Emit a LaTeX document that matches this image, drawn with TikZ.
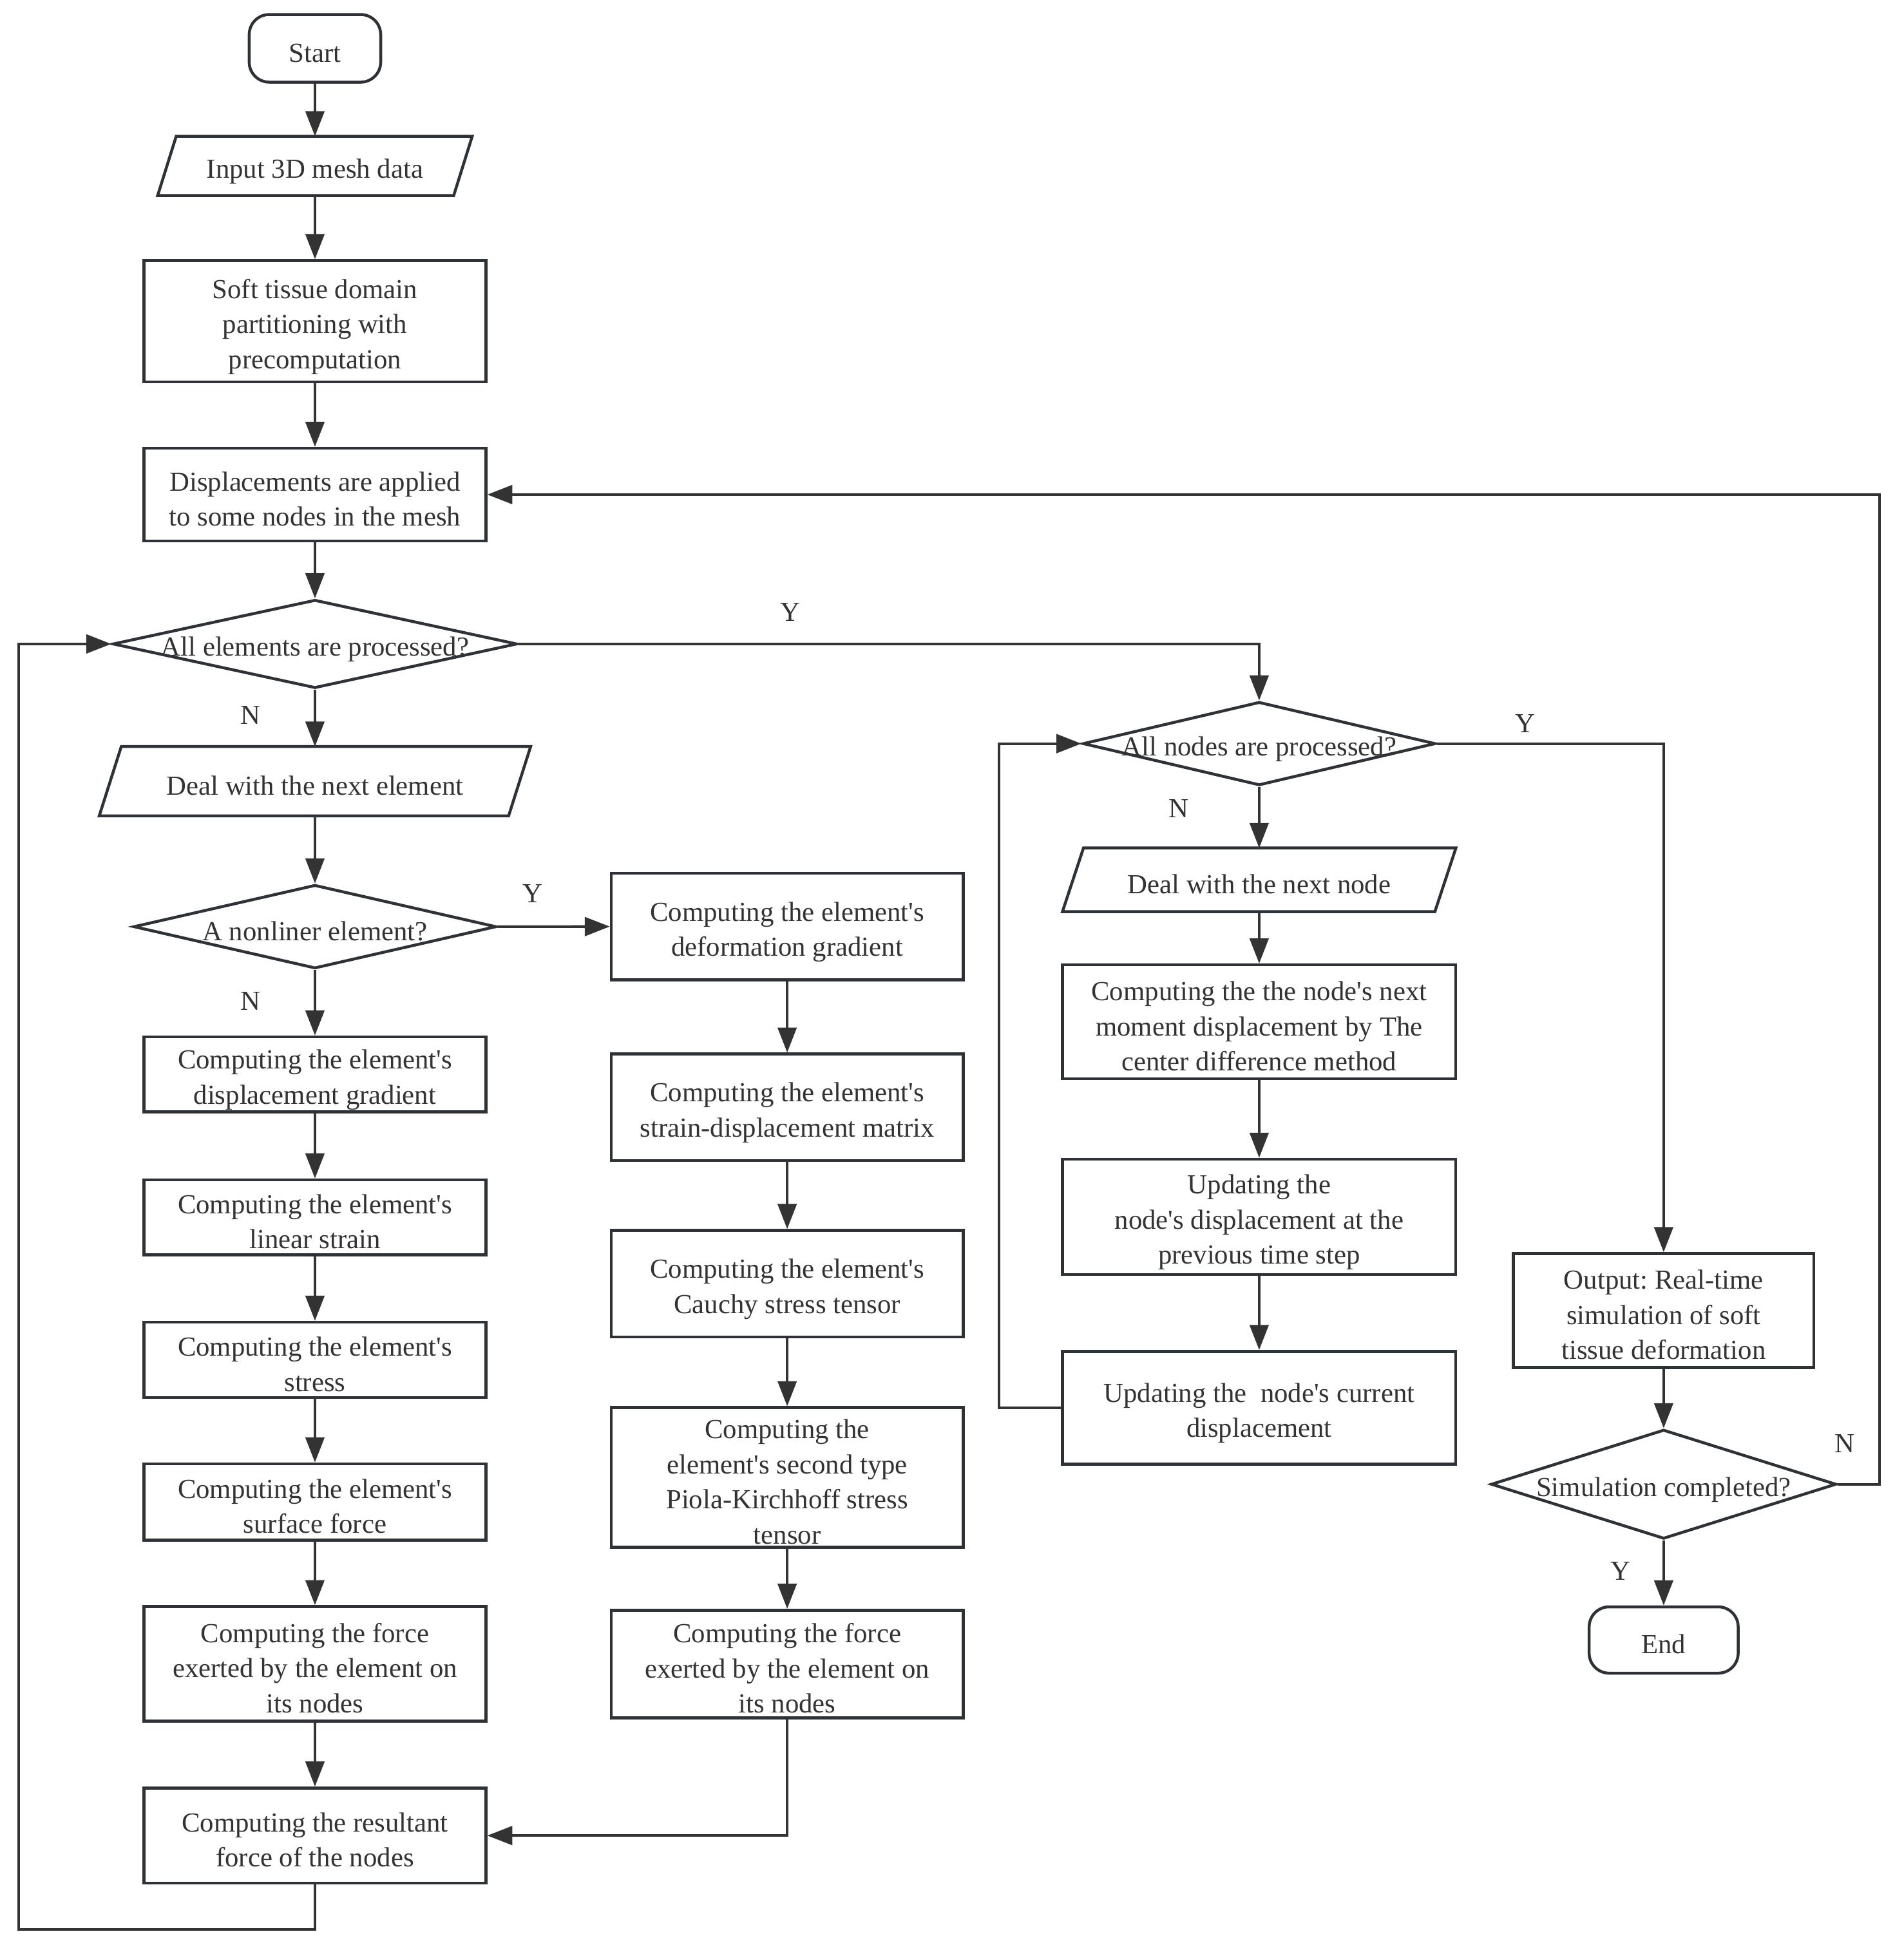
\documentclass[tikz,border=0pt]{standalone}
\usepackage{fontspec}
\setmainfont{Liberation Serif}
\usetikzlibrary{shapes.geometric,arrows.meta,calc}
\definecolor{ink}{HTML}{333333}
\definecolor{edge}{HTML}{2E3135}
\newcommand{\aq}{\textquotesingle}
\newcommand{\Ls}{\rule[-2pt]{0pt}{26pt}}
\frenchspacing
\setlength{\lineskiplimit}{-30pt}
\tikzset{
  txt/.style={text=ink,font=\fontsize{22}{28}\selectfont,align=center,inner sep=0pt},
  box/.style={txt,draw=edge,line width=2.3pt,rectangle,minimum width=273pt},
  term/.style={txt,draw=edge,line width=2.3pt,rectangle,rounded corners=16pt},
  pgram/.style={txt,rectangle,minimum height=#1},
  dia/.style={draw=edge,line width=2.3pt,diamond,inner sep=0pt},
  arr/.style={draw=ink,line width=2.1pt,-{Triangle[length=20pt,width=15pt]}},
  lbl/.style={text=ink,font=\fontsize{22}{28}\selectfont,inner sep=0pt}
}
\begin{document}
\begin{tikzpicture}[x=1pt,y=-1pt]
\useasboundingbox[fill=white] (0,0) rectangle (1520,1559);
% ---------- left column ----------
\node[term,minimum width=105pt,minimum height=54pt] (start) at (251.5,38.6) {\Ls Start};
\node[pgram=47pt,minimum width=236pt] (inp) at (251.5,132.5) {\Ls Input 3D mesh data};
\draw[draw=edge,line width=2.3pt] ([xshift=7.4pt]inp.north west) -- ([xshift=7.4pt]inp.north east) -- ([xshift=-7.4pt]inp.south east) -- ([xshift=-7.4pt]inp.south west) -- cycle;
\node[box,minimum height=97pt] (soft) at (251.5,256.6) {\Ls Soft tissue domain\\\Ls partitioning with\\\Ls precomputation};
\node[box,minimum height=74pt] (disp) at (251.5,395) {\Ls Displacements are applied\\\Ls to some nodes in the mesh};
\node[dia,minimum width=323pt,minimum height=70.6pt] (d1) at (251.5,514.3) {};
\node[txt] (d1t) at (d1.center) {\Ls All elements are processed?};
\node[pgram=55pt,minimum width=326.5pt] (de) at (251.5,623.9) {\Ls Deal with the next element};
\draw[draw=edge,line width=2.3pt] ([xshift=8.8pt]de.north west) -- ([xshift=8.8pt]de.north east) -- ([xshift=-8.8pt]de.south east) -- ([xshift=-8.8pt]de.south west) -- cycle;
\node[dia,minimum width=289.7pt,minimum height=66.8pt] (d2) at (251.5,740.1) {};
\node[txt] (d2t) at (d2.center) {\Ls A nonliner element?};
\node[box,minimum height=60pt] (dg) at (251.5,858.1) {\Ls Computing the element\aq s\\\Ls displacement gradient};
\node[box,minimum height=60pt] (ls) at (251.5,972.3) {\Ls Computing the element\aq s\\\Ls linear strain};
\node[box,minimum height=60pt] (st) at (251.5,1086) {\Ls Computing the element\aq s\\\Ls stress};
\node[box,minimum height=61pt] (sf) at (251.5,1199.6) {\Ls Computing the element\aq s\\\Ls surface force};
\node[box,minimum height=91.4pt] (fl) at (251.5,1328.8) {\Ls Computing the force\\\Ls exerted by the element on\\\Ls its nodes};
\node[box,minimum height=76pt] (res) at (251.5,1466) {\Ls Computing the resultant\\\Ls force of the nodes};
% ---------- middle column ----------
\node[box,minimum width=281pt,minimum height=85pt] (fg) at (628.6,740) {\Ls Computing the element\aq s\\\Ls deformation gradient};
\node[box,minimum width=281pt,minimum height=85pt] (sd) at (628.6,884.3) {\Ls Computing the element\aq s\\\Ls strain-displacement matrix};
\node[box,minimum width=281pt,minimum height=85pt] (cs) at (628.6,1025.2) {\Ls Computing the element\aq s\\\Ls Cauchy stress tensor};
\node[box,minimum width=281pt,minimum height=111.6pt] (pk) at (628.6,1180) {\Ls Computing the\\\Ls element\aq s second type\\\Ls Piola-Kirchhoff stress\\\Ls tensor};
\node[box,minimum width=281pt,minimum height=86pt] (fm) at (628.6,1329) {\Ls Computing the force\\\Ls exerted by the element on\\\Ls its nodes};
% ---------- right column ----------
\node[dia,minimum width=281.6pt,minimum height=66.7pt] (d3) at (1005.5,593.9) {};
\node[txt] (d3t) at (d3.center) {\Ls All nodes are processed?};
\node[pgram=50.5pt,minimum width=297pt] (dn) at (1005.5,702.7) {\Ls Deal with the next node};
\draw[draw=edge,line width=2.3pt] ([xshift=8.4pt]dn.north west) -- ([xshift=8.4pt]dn.north east) -- ([xshift=-8.4pt]dn.south east) -- ([xshift=-8.4pt]dn.south west) -- cycle;
\node[box,minimum width=314pt,minimum height=91pt] (nm) at (1005.5,816.1) {\Ls Computing the the node\aq s next\\\Ls moment displacement by The\\\Ls center difference method};
\node[box,minimum width=314pt,minimum height=92pt] (up) at (1005.5,971.8) {\Ls Updating the\\\Ls node\aq s displacement at the\\\Ls previous time step};
\node[box,minimum width=314pt,minimum height=90pt] (uc) at (1005.5,1124.3) {\Ls Updating the\ \ node\aq s current\\\Ls displacement};
% ---------- far right column ----------
\node[box,minimum width=240pt,minimum height=91pt] (out) at (1328.5,1046.7) {\Ls Output: Real-time\\\Ls simulation of soft\\\Ls tissue deformation};
\node[dia,minimum width=275.7pt,minimum height=87.2pt] (d4) at (1328.5,1185.4) {};
\node[txt] (d4t) at (d4.center) {\Ls Simulation completed?};
\node[term,minimum width=119pt,minimum height=53pt] (end) at (1328.5,1309.8) {\Ls End};
% ---------- helper coordinates ----------
\coordinate (lx) at (14.7,1541);
\coordinate (mx) at (797.8,0);
\coordinate (rx) at (1500.7,0);
% ---------- connectors ----------
\draw[arr] (start.south) -- (inp.north);
\draw[arr] (inp.south) -- (soft.north);
\draw[arr] (soft.south) -- (disp.north);
\draw[arr] (disp.south) -- (d1.north);
\draw[arr] (d1.south) -- (de.north);
\draw[arr] (de.south) -- (d2.north);
\draw[arr] (d2.south) -- (dg.north);
\draw[arr] (dg.south) -- (ls.north);
\draw[arr] (ls.south) -- (st.north);
\draw[arr] (st.south) -- (sf.north);
\draw[arr] (sf.south) -- (fl.north);
\draw[arr] (fl.south) -- (res.north);
\draw[arr] (res.south) |- (lx) |- (d1.west);
\draw[arr] (d2.east) -- (fg.west);
\draw[arr] (fg.south) -- (sd.north);
\draw[arr] (sd.south) -- (cs.north);
\draw[arr] (cs.south) -- (pk.north);
\draw[arr] (pk.south) -- (fm.north);
\draw[arr] (fm.south) |- (res.east);
\draw[arr] (d1.east) -| (d3.north);
\draw[arr] (d3.south) -- (dn.north);
\draw[arr] (dn.south) -- (nm.north);
\draw[arr] (nm.south) -- (up.north);
\draw[arr] (up.south) -- (uc.north);
\draw[arr] (uc.west) -- (uc.west -| mx) |- (d3.west);
\draw[arr] (d3.east) -| (out.north);
\draw[arr] (out.south) -- (d4.north);
\draw[arr] (d4.south) -- (end.north);
\draw[arr] (d4.east) -- (d4.east -| rx) |- (disp.east);
% ---------- labels ----------
\node[lbl] (y1) at (631,489) {Y};
\node[lbl] (n1) at (200.3,571.2) {N};
\node[lbl] (y2) at (425.1,713.7) {Y};
\node[lbl] (n2) at (200.3,799.3) {N};
\node[lbl] (y3) at (1218,577.7) {Y};
\node[lbl] (n3) at (941,645.8) {N};
\node[lbl] (n4) at (1473,1152.8) {N};
\node[lbl] (y4) at (1294,1255) {Y};
\end{tikzpicture}
\end{document}
